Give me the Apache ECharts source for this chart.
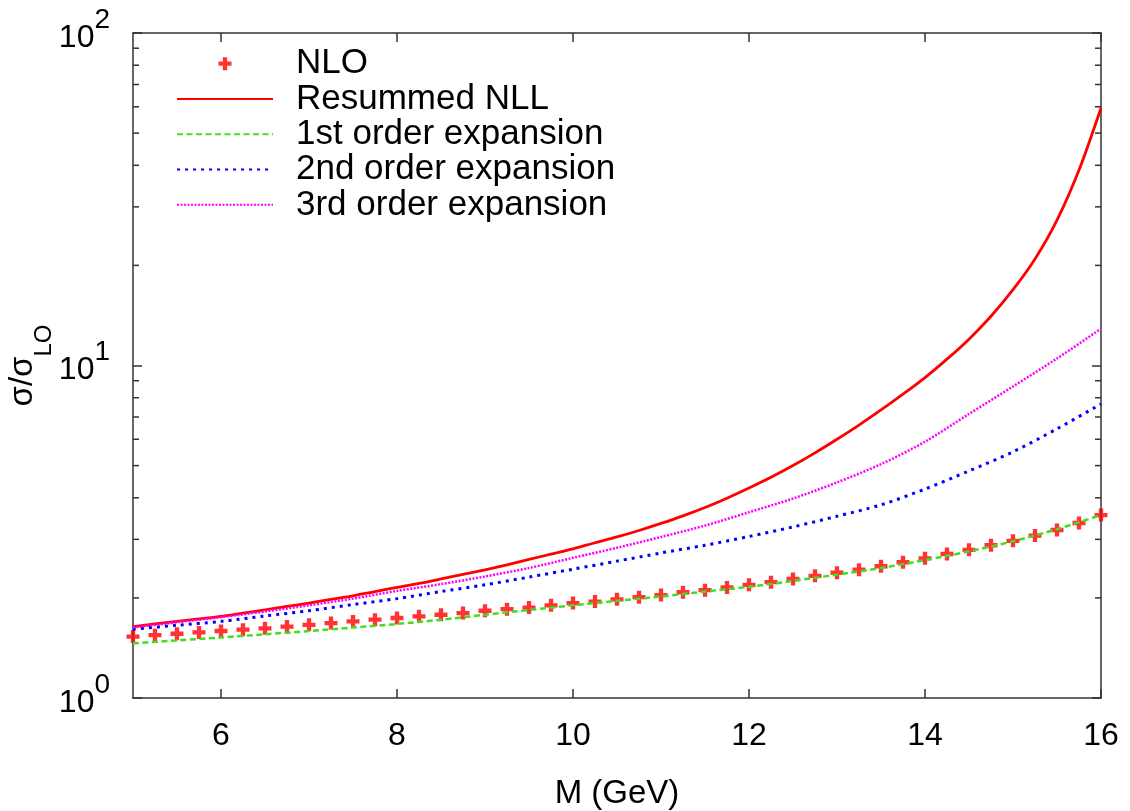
<!DOCTYPE html>
<html>
<head>
<meta charset="utf-8">
<title>sigma / sigma_LO vs M</title>
<script src="https://cdn.jsdelivr.net/npm/echarts@6.0.0/dist/echarts.min.js"></script>
<style>
  html, body { margin: 0; padding: 0; background: #fff; }
  #chart { width: 1130px; height: 811px; }
</style>
</head>
<body>
<div id="chart"></div>
<script>
  // NLO points and the resummed curve, every 0.25 GeV
  var fineMass = [5, 5.25, 5.5, 5.75, 6, 6.25, 6.5, 6.75, 7, 7.25, 7.5, 7.75, 8, 8.25, 8.5, 8.75,
    9, 9.25, 9.5, 9.75, 10, 10.25, 10.5, 10.75, 11, 11.25, 11.5, 11.75, 12, 12.25, 12.5, 12.75,
    13, 13.25, 13.5, 13.75, 14, 14.25, 14.5, 14.75, 15, 15.25, 15.5, 15.75, 16];
  var nloValues = [1.53, 1.545, 1.56, 1.575, 1.59, 1.605, 1.62, 1.64, 1.66, 1.68, 1.70, 1.72, 1.74, 1.76, 1.78, 1.80,
    1.83, 1.85, 1.87, 1.90, 1.93, 1.95, 1.98, 2.01, 2.04, 2.08, 2.11, 2.15, 2.19, 2.23, 2.28, 2.33,
    2.38, 2.43, 2.49, 2.56, 2.63, 2.71, 2.79, 2.88, 2.97, 3.08, 3.20, 3.36, 3.55];
  var resummedNll = [1.64, 1.67, 1.70, 1.73, 1.76, 1.80, 1.84, 1.885, 1.93, 1.98, 2.03, 2.09, 2.15, 2.21, 2.28, 2.355,
    2.43, 2.515, 2.61, 2.71, 2.81, 2.93, 3.05, 3.19, 3.35, 3.53, 3.74, 3.99, 4.28, 4.61, 5.00, 5.46,
    6.0, 6.62, 7.35, 8.2, 9.2, 10.45, 12.0, 14.06, 16.9, 20.9, 27.35, 38.7, 59.5];

  // expansions, every 0.5 GeV
  var curveMass = [5, 5.5, 6, 6.5, 7, 7.5, 8, 8.5, 9, 9.5, 10, 10.5, 11, 11.5, 12, 12.5, 13, 13.5, 14, 14.5, 15, 15.5, 16];
  var firstOrder = [1.46, 1.49, 1.52, 1.555, 1.59, 1.63, 1.67, 1.72, 1.78, 1.84, 1.90, 1.96, 2.02, 2.09, 2.16, 2.25,
    2.35, 2.46, 2.60, 2.76, 2.96, 3.22, 3.55];
  var secondOrder = [1.61, 1.655, 1.70, 1.765, 1.83, 1.91, 1.99, 2.09, 2.19, 2.31, 2.44, 2.58, 2.73, 2.88, 3.06, 3.27,
    3.52, 3.81, 4.25, 4.82, 5.5, 6.45, 7.66];
  var thirdOrder = [1.63, 1.69, 1.75, 1.82, 1.90, 1.99, 2.10, 2.20, 2.32, 2.46, 2.64, 2.83, 3.05, 3.30, 3.62, 3.98,
    4.45, 5.05, 5.90, 7.15, 8.65, 10.5, 12.9];

  var xTicks = [6, 8, 10, 12, 14, 16];
  var yMinorTicks = [2, 3, 4, 5, 6, 7, 8, 9, 20, 30, 40, 50, 60, 70, 80, 90];

  function zip(xs, ys) {
    return xs.map(function (x, i) { return [x, ys[i]]; });
  }

  var frame = '#333333';
  var font = 'Liberation Sans';
  var plus = 'path://M-1,-3 L1,-3 L1,-1 L3,-1 L3,1 L1,1 L1,3 L-1,3 L-1,1 L-3,1 L-3,-1 L-1,-1 Z';

  var chart = echarts.init(document.getElementById('chart'));

  var axisLineStyle = { show: true, lineStyle: { color: frame, width: 1.5 } };

  var option = {
    animation: false,
    textStyle: { fontFamily: font, color: '#000' },
    grid: { left: 133, right: 29, top: 33, bottom: 113, outerBoundsMode: 'none', containLabel: false },
    legend: {
      orient: 'vertical',
      left: 176,
      top: 46,
      padding: 0,
      itemGap: 0,
      itemWidth: 96,
      itemHeight: 13,
      selectedMode: false,
      textStyle: { fontSize: 35, color: '#000', fontFamily: font, lineHeight: 35.3, padding: [0, 0, 0, 18] },
      data: [
        { name: 'NLO' },
        { name: 'Resummed NLL', itemStyle: { opacity: 0 } },
        { name: '1st order expansion', itemStyle: { opacity: 0 } },
        { name: '2nd order expansion', itemStyle: { opacity: 0 } },
        { name: '3rd order expansion', itemStyle: { opacity: 0 } }
      ]
    },
    xAxis: [{
      type: 'value',
      position: 'bottom',
      min: 5,
      max: 16,
      axisLine: axisLineStyle,
      axisTick: { show: true, inside: true, length: 9, customValues: xTicks, lineStyle: { color: frame, width: 1.5 } },
      axisLabel: { customValues: xTicks, fontSize: 32, margin: 22, color: '#000', fontFamily: font },
      splitLine: { show: false },
      name: 'M (GeV)',
      nameLocation: 'middle',
      nameGap: 79,
      nameMoveOverlap: false,
      nameTextStyle: { fontSize: 33, color: '#000', fontFamily: font }
    }, {
      type: 'value',
      position: 'top',
      min: 5,
      max: 16,
      axisLine: axisLineStyle,
      axisTick: { show: true, inside: true, length: 9, customValues: xTicks, lineStyle: { color: frame, width: 1.5 } },
      axisLabel: { show: false },
      splitLine: { show: false }
    }],
    yAxis: [{
      type: 'log',
      logBase: 10,
      position: 'left',
      min: 1,
      max: 100,
      axisLine: axisLineStyle,
      axisTick: { show: true, inside: true, length: 9, lineStyle: { color: frame, width: 1.5 } },
      axisLabel: {
        margin: 23,
        padding: [10, 0, 0, 0],
        formatter: function (v) {
          return '{b|10}{e|' + Math.round(Math.log10(v)) + '}';
        },
        rich: {
          b: { fontSize: 32, lineHeight: 64, color: '#000', fontFamily: font },
          e: { fontSize: 28, verticalAlign: 'top', color: '#000', fontFamily: font }
        }
      },
      splitLine: { show: false },
      name: '{a|σ/σ}{s|LO}',
      nameLocation: 'middle',
      nameRotate: 90,
      nameGap: 77,
      nameMoveOverlap: false,
      nameTextStyle: {
        rich: {
          a: { fontSize: 33, lineHeight: 66, color: '#000', fontFamily: font },
          s: { fontSize: 24, verticalAlign: 'bottom', color: '#000', fontFamily: font }
        }
      }
    }, {
      type: 'log',
      logBase: 10,
      position: 'right',
      min: 1,
      max: 100,
      axisLine: axisLineStyle,
      axisTick: { show: true, inside: true, length: 9, lineStyle: { color: frame, width: 1.5 } },
      axisLabel: { show: false },
      splitLine: { show: false }
    }],
    series: [
      {
        name: 'NLO',
        type: 'scatter',
        data: zip(fineMass, nloValues),
        symbol: plus,
        symbolSize: 13,
        itemStyle: { color: '#ff0000' },
        z: 2
      },
      {
        name: 'Resummed NLL',
        type: 'line',
        data: zip(fineMass, resummedNll),
        symbol: 'none',
        smooth: 0.3,
        color: '#ff0000',
        lineStyle: { color: '#ff0000', width: 2.8 },
        z: 3
      },
      {
        name: '1st order expansion',
        type: 'line',
        data: zip(curveMass, firstOrder),
        symbol: 'none',
        smooth: 0.3,
        color: '#44dd22',
        lineStyle: { color: '#44dd22', width: 2.5, type: [6, 3.5] },
        z: 3
      },
      {
        name: '2nd order expansion',
        type: 'line',
        data: zip(curveMass, secondOrder),
        symbol: 'none',
        smooth: 0.3,
        color: '#0000ff',
        lineStyle: { color: '#0000ff', width: 3, type: [3, 5] },
        z: 3
      },
      {
        name: '3rd order expansion',
        type: 'line',
        data: zip(curveMass, thirdOrder),
        symbol: 'none',
        smooth: 0.3,
        color: '#ff00ff',
        lineStyle: { color: '#ff00ff', width: 2.5, type: [2, 1.5] },
        z: 3
      },
      {
        // log minor ticks on left and right frame
        type: 'custom',
        silent: true,
        data: yMinorTicks.map(function (v) { return [5, v]; }),
        renderItem: function (params, api) {
          var y = api.coord([api.value(0), api.value(1)])[1];
          var cs = params.coordSys;
          var st = { stroke: frame, lineWidth: 1.5 };
          return {
            type: 'group',
            children: [
              { type: 'line', shape: { x1: cs.x, y1: y, x2: cs.x + 6, y2: y }, style: st },
              { type: 'line', shape: { x1: cs.x + cs.width - 6, y1: y, x2: cs.x + cs.width, y2: y }, style: st }
            ]
          };
        },
        z: 5
      }
    ]
  };

  chart.setOption(option);
</script>
</body>
</html>
